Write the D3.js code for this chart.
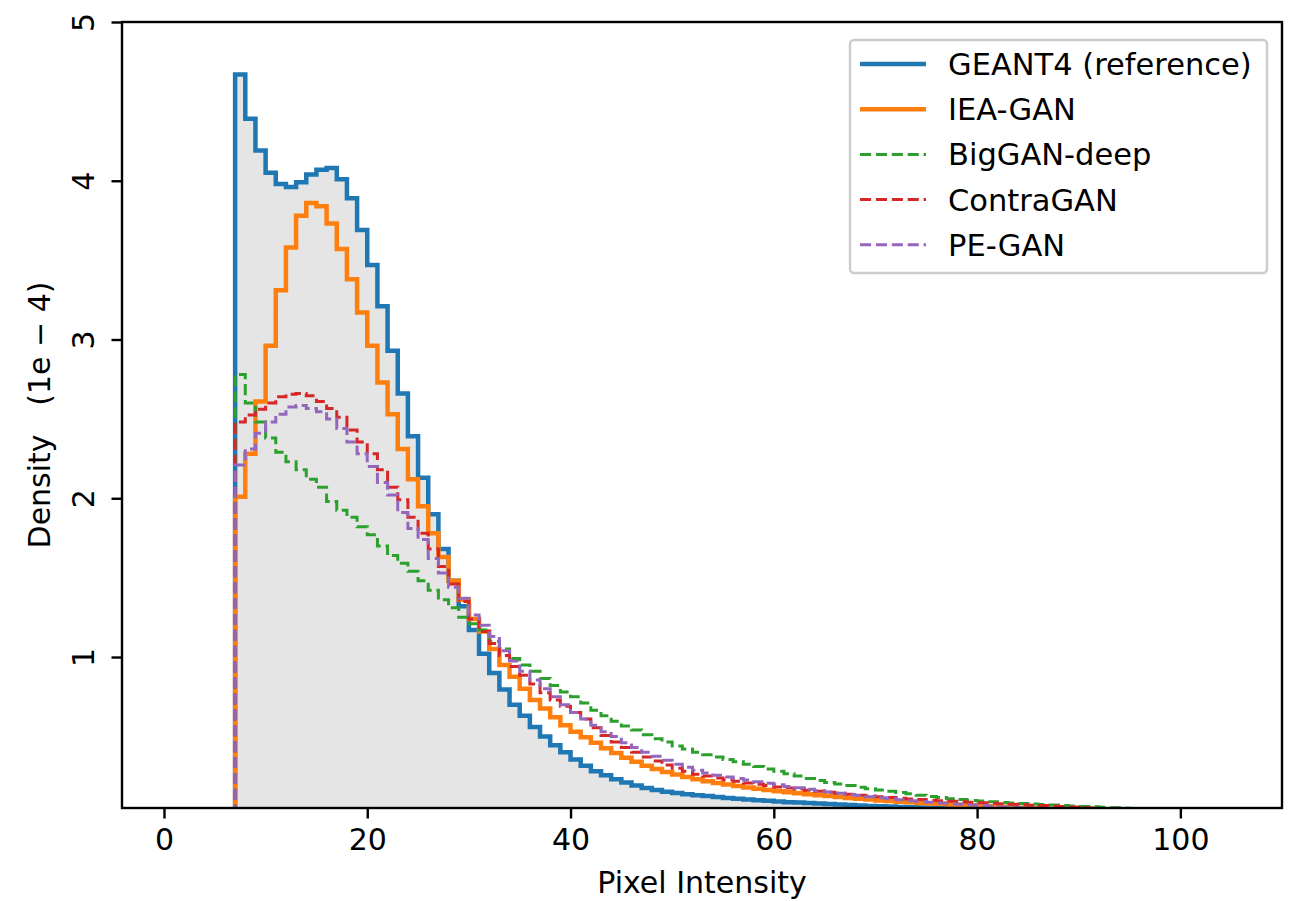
<!DOCTYPE html>
<html>
<head>
<meta charset="utf-8">
<script src="https://cdn.jsdelivr.net/npm/d3@7"></script>
<style>
body{margin:0;background:#fff;}
text{font-family:"DejaVu Sans",sans-serif;fill:#000;}
</style>
</head>
<body>
<svg id="chart" width="1290" height="901"></svg>
<script>
// histogram bins have width 1 and start at pixel intensity 7
var binStart = 7;

var geant4 = [4.67,4.39,4.19,4.05,3.98,3.96,3.99,4.04,4.07,4.08,4.01,3.89,3.69,3.47,3.21,2.93,2.66,2.39,2.13,1.90,
	1.68,1.48,1.32,1.17,1.02,0.90,0.795,0.70,0.63,0.56,0.50,0.445,0.40,0.355,0.315,0.28,0.255,0.23,0.21,0.19,
	0.175,0.163,0.152,0.143,0.136,0.13,0.124,0.118,0.112,0.107,0.102,0.098,0.094,0.09,0.086,0.083,0.08,0.077,0.074,0.071,
	0.068,0.065,0.062,0.06,0.058,0.056,0.054,0.052,0.05,0.048,0.046,0.044,0.042,0.04,0.038,0.036,0.034,0.032,0.03,0.028,
	0.026,0.024,0.022,0.02,0.018,0.016,0.014,0.012,0.01,0.009,0.008,0.007,0.006,0.005];

var ieaGan = [2.01,2.28,2.61,2.96,3.31,3.58,3.78,3.86,3.84,3.73,3.57,3.38,3.17,2.96,2.73,2.53,2.31,2.12,1.95,1.78,
	1.63,1.48,1.36,1.24,1.16,1.05,0.95,0.875,0.80,0.73,0.675,0.62,0.57,0.53,0.495,0.46,0.425,0.395,0.365,0.34,
	0.315,0.295,0.275,0.26,0.245,0.23,0.218,0.207,0.197,0.187,0.178,0.17,0.162,0.155,0.148,0.142,0.136,0.13,0.124,0.118,
	0.112,0.107,0.102,0.097,0.093,0.089,0.085,0.081,0.078,0.075,0.072,0.069,0.066,0.063,0.06,0.057,0.054,0.051,0.048,0.045,
	0.042,0.039,0.036,0.033,0.03,0.027,0.024,0.021,0.018,0.016,0.014,0.012,0.01,0.008];

var bigganDeep = [2.78,2.60,2.48,2.38,2.29,2.23,2.18,2.12,2.07,1.98,1.925,1.88,1.82,1.77,1.70,1.64,1.59,1.54,1.48,1.42,
	1.36,1.31,1.25,1.21,1.17,1.10,1.05,0.99,0.95,0.91,0.865,0.82,0.78,0.75,0.71,0.665,0.63,0.595,0.565,0.54,
	0.51,0.485,0.465,0.44,0.42,0.40,0.385,0.37,0.355,0.34,0.325,0.31,0.295,0.28,0.265,0.25,0.235,0.222,0.21,0.2,
	0.19,0.18,0.17,0.162,0.154,0.146,0.138,0.13,0.122,0.115,0.108,0.102,0.097,0.093,0.088,0.084,0.08,0.077,0.074,0.071,
	0.068,0.065,0.062,0.059,0.057,0.054,0.051,0.048,0.045,0.042,0.039,0.036,0.033,0.03];

var contraGan = [2.48,2.525,2.56,2.60,2.64,2.655,2.66,2.645,2.61,2.565,2.51,2.43,2.355,2.28,2.18,2.07,1.99,1.88,1.78,1.68,
	1.57,1.46,1.35,1.24,1.16,1.085,1.01,0.94,0.885,0.83,0.775,0.73,0.69,0.65,0.61,0.555,0.505,0.465,0.43,0.40,
	0.37,0.345,0.32,0.30,0.28,0.262,0.25,0.238,0.227,0.217,0.207,0.198,0.19,0.182,0.175,0.168,0.161,0.154,0.148,0.142,
	0.136,0.13,0.125,0.12,0.115,0.11,0.106,0.102,0.098,0.094,0.091,0.088,0.085,0.082,0.079,0.076,0.073,0.07,0.067,0.064,
	0.061,0.058,0.055,0.052,0.049,0.046,0.043,0.04,0.037,0.034,0.031,0.028,0.025,0.022];

var peGan = [2.21,2.31,2.41,2.48,2.53,2.575,2.585,2.565,2.545,2.50,2.44,2.355,2.28,2.20,2.10,2.02,1.91,1.81,1.74,1.62,
	1.53,1.44,1.37,1.265,1.20,1.13,1.04,0.975,0.91,0.855,0.80,0.75,0.70,0.65,0.61,0.57,0.53,0.50,0.46,0.43,
	0.40,0.375,0.35,0.325,0.305,0.287,0.27,0.255,0.245,0.235,0.225,0.215,0.205,0.195,0.185,0.176,0.167,0.158,0.15,0.142,
	0.134,0.127,0.12,0.113,0.107,0.101,0.095,0.09,0.085,0.08,0.076,0.072,0.068,0.064,0.06,0.056,0.053,0.05,0.047,0.044,
	0.041,0.038,0.035,0.032,0.029,0.026,0.023,0.02,0.018,0.016,0.014,0.012,0.01,0.008];

var seriesNames = ["GEANT4 (reference)","IEA-GAN","BigGAN-deep","ContraGAN","PE-GAN"];
var seriesData = [geant4, ieaGan, bigganDeep, contraGan, peGan];
var seriesColors = ["#1f77b4","#ff7f0e","#2ca02c","#d62728","#9467bd"];
var seriesDashed = [false,false,true,true,true];

var xTicks = [0,20,40,60,80,100];
var yTicks = [1,2,3,4,5];

function drawChart()
{
	var pLeft = 122, pRight = 1282, pTop = 22, pBottom = 808;

	var svg = d3.select("#chart");

	var x = d3.scaleLinear().domain([-4.13,110.0]).range([pLeft,pRight]);
	var y = d3.scaleLinear().domain([0.049,5]).range([pBottom,pTop]);

	svg.append("defs").append("clipPath").attr("id","plotClip")
		.append("rect")
		.attr("x",pLeft).attr("y",pTop)
		.attr("width",pRight-pLeft).attr("height",pBottom-pTop);

	//step outline: up at first edge, across each bin, down at last edge
	function stepPoints(vals)
	{
		var pts = [[binStart,0]];
		for(var i=0;i<vals.length;i++)
			pts.push([binStart+i+1, vals[i]]);
		pts.push([binStart+vals.length, 0]);
		return pts;
	}

	var plot = svg.append("g").attr("clip-path","url(#plotClip)");

	var area = d3.area()
		.x(function(d){return x(d[0]);})
		.y0(y(0))
		.y1(function(d){return y(d[1]);})
		.curve(d3.curveStepBefore);

	plot.append("path")
		.attr("d",area(stepPoints(geant4)))
		.attr("fill","#e5e5e5");

	var line = d3.line()
		.x(function(d){return x(d[0]);})
		.y(function(d){return y(d[1]);})
		.curve(d3.curveStepBefore);

	for(var k=0;k<seriesData.length;k++)
	{
		plot.append("path")
			.attr("d",line(stepPoints(seriesData[k])))
			.attr("fill","none")
			.attr("stroke",seriesColors[k])
			.attr("stroke-width",seriesDashed[k]?3:4.5)
			.attr("stroke-dasharray",seriesDashed[k]?"11.1,4.8":null)
			.attr("stroke-linejoin","miter");
	}

	//axes
	var xAxis = d3.axisBottom(x).tickValues(xTicks).tickSize(10.5).tickPadding(10.5).tickFormat(d3.format("d"));
	var gx = svg.append("g").attr("transform","translate(0,"+pBottom+")").call(xAxis);
	gx.select(".domain").remove();
	gx.selectAll(".tick line").attr("stroke","#000").attr("stroke-width",2.4);
	gx.selectAll(".tick text").attr("font-size",30).attr("font-family","DejaVu Sans").attr("fill","#000");

	var yAxis = d3.axisLeft(y).tickValues(yTicks).tickSize(10.5).tickFormat(d3.format("d"));
	var gy = svg.append("g").attr("transform","translate("+pLeft+",0)").call(yAxis);
	gy.select(".domain").remove();
	gy.selectAll(".tick line").attr("stroke","#000").attr("stroke-width",2.4);
	gy.selectAll(".tick text")
		.attr("font-size",30).attr("font-family","DejaVu Sans").attr("fill","#000")
		.attr("x",0).attr("y",-28).attr("dy",null)
		.attr("text-anchor","middle")
		.attr("transform","rotate(-90)");

	svg.append("rect")
		.attr("x",pLeft).attr("y",pTop)
		.attr("width",pRight-pLeft).attr("height",pBottom-pTop)
		.attr("fill","none").attr("stroke","#000").attr("stroke-width",2.4);

	svg.append("text")
		.attr("x",(pLeft+pRight)/2).attr("y",893)
		.attr("text-anchor","middle")
		.attr("font-size",30)
		.text("Pixel Intensity");

	svg.append("text")
		.attr("transform","translate(50,"+((pTop+pBottom)/2)+") rotate(-90)")
		.attr("text-anchor","middle")
		.attr("font-size",30)
		.style("white-space","pre")
		.text("Density   (1e \u2212 4)");

	//legend
	var legend = svg.append("g");
	legend.append("rect")
		.attr("x",850).attr("y",40)
		.attr("width",417).attr("height",233)
		.attr("rx",4).attr("ry",4)
		.attr("fill","#fff").attr("fill-opacity",0.8)
		.attr("stroke","#cccccc").attr("stroke-width",2.4);

	for(var j=0;j<seriesNames.length;j++)
	{
		var ly = 64 + j*45.2;
		legend.append("line")
			.attr("x1",860).attr("x2",926)
			.attr("y1",ly).attr("y2",ly)
			.attr("stroke",seriesColors[j])
			.attr("stroke-width",seriesDashed[j]?3:4.5)
			.attr("stroke-dasharray",seriesDashed[j]?"11.1,4.8":null);
		legend.append("text")
			.attr("x",948).attr("y",ly+11)
			.attr("font-size",30.5)
			.text(seriesNames[j]);
	}
}

drawChart();
</script>
</body>
</html>
